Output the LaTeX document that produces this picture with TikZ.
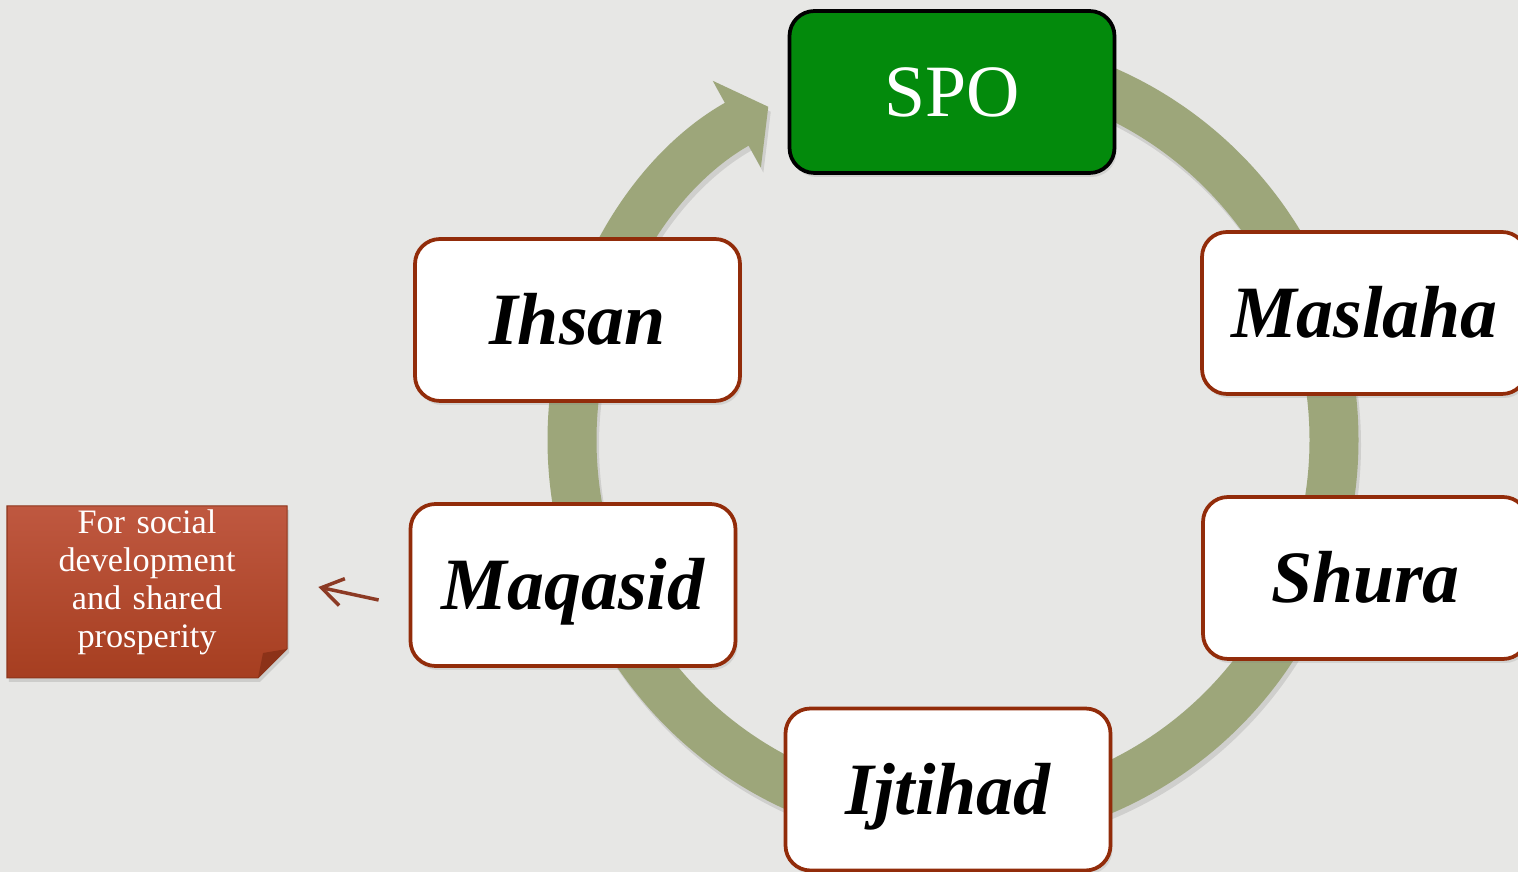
\documentclass[tikz,border=0pt]{standalone}
\usepackage{fontspec}
\setmainfont{Liberation Serif}
\usetikzlibrary{arrows.meta}
\usetikzlibrary{shadows}
\definecolor{pagegray}{RGB}{231,231,229}
\definecolor{ringgreen}{RGB}{157,166,122}
\definecolor{spogreen}{RGB}{3,138,12}
\definecolor{wordedge}{RGB}{146,44,10}
\definecolor{notetop}{RGB}{191,88,64}
\definecolor{notebot}{RGB}{166,62,32}
\definecolor{notefold}{RGB}{140,50,24}
\definecolor{pointercol}{RGB}{140,58,36}
\tikzset{word/.style={% white boxes on the ring
        draw=wordedge, line width=0.075cm, fill=white, rounded corners=0.5cm,
        minimum width=6.5cm, minimum height=3.24cm,
        text height=1cm, text depth=0cm,
        font=\fontsize{42}{48}\selectfont\bfseries\itshape,
        drop shadow={shadow xshift=0.04cm, shadow yshift=-0.08cm, opacity=0.2}
    },
    spobox/.style={word, fill=spogreen, draw=black, text=white,
        font=\fontsize{42}{48}\selectfont}}

\begin{document}
\begin{tikzpicture}[
ring/.style={draw=ringgreen, line width=0.98cm,
    -{Triangle[width=1.95cm,length=0.72cm]}},
notetext/.style={text=white, align=center, text width=5.6cm, inner sep=0pt,
    font=\fontsize{19.5}{21.6}\selectfont},
pointer/.style={draw=pointercol, line width=0.07cm,
    -{Straight Barb[length=0.42cm,width=0.55cm]}}]
      \fill[pagegray] (0,0) rectangle (30.36,17.44);
      \useasboundingbox (0,0) rectangle (30.36,17.44);
      \coordinate (hub) at (19.06,8.64);
      % the cycle
      \draw[ring, draw=black, opacity=0.1] ([shift={(0.05,-0.1)}]hub) ++(90:7.62) arc (90:-241:7.62);
      \draw[ring] (hub) ++(90:7.62) arc (90:-241:7.62);
      \node[spobox] (spo) at (19.04,15.6) {SPO};
      \node[word] (ihsan) at (11.55,11.04) {Ihsan};
      \node[word] (maslaha) at (27.29,11.18) {Maslaha};
      \node[word] (shura) at (27.31,5.88) {Shura};
      \node[word] (maqasid) at (11.46,5.74) {Maqasid};
      \node[word] (ijtihad) at (18.96,1.65) {Ijtihad};
      % sticky note
      \shade[top color=notetop, bottom color=notebot, draw=notebot!85!black, line width=0.02cm,
        drop shadow={shadow xshift=0.04cm, shadow yshift=-0.08cm, opacity=0.25}]
        (0.14,3.88) -- (0.14,7.32) -- (5.74,7.32) -- (5.74,4.46) -- (5.16,3.88) -- cycle;
      \fill[notefold] (5.16,3.88) -- (5.74,4.46) -- (5.26,4.38) -- cycle;
      \node[notetext] (note) at (2.94,5.8) {For social\\development\\and shared\\prosperity};
      \draw[pointer] ([shift={(-0.6,-0.3)}]maqasid.west) -- ([shift={(0.62,-0.1)}]note.east);
    \end{tikzpicture}
\end{document}
